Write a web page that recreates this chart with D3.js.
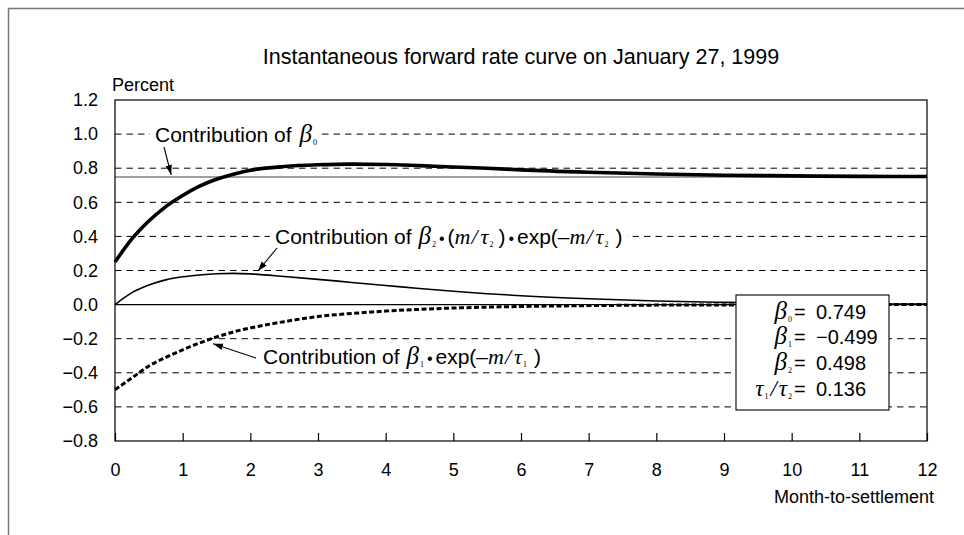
<!DOCTYPE html>
<html>
<head>
<meta charset="utf-8">
<script src="https://cdn.jsdelivr.net/npm/d3@7"></script>
<style>
  body { margin: 0; background: #fff; }
  svg { display: block; }
  text { font-family: "Liberation Sans", Arial, sans-serif; fill: #000; }
</style>
</head>
<body>
<svg id="chart" width="964" height="535"></svg>
<script>
// Months to settlement at which the curves are sampled
const months = [0, 0.25, 0.5, 0.75, 1, 1.25, 1.5, 1.75, 2, 2.5, 3, 3.5, 4, 4.5, 5, 5.5, 6, 7, 8, 9, 10, 11, 12];

// Instantaneous forward rate (percent)
const forwardRate = [0.25, 0.385, 0.49, 0.575, 0.64, 0.695, 0.735, 0.765, 0.788, 0.81, 0.82, 0.824, 0.822, 0.815, 0.807, 0.80, 0.79, 0.776, 0.766, 0.759, 0.755, 0.752, 0.751];

// Contribution of beta1 * exp(-m/tau1)
const beta1Term = [-0.499, -0.43, -0.36, -0.31, -0.265, -0.225, -0.19, -0.16, -0.137, -0.10, -0.07, -0.052, -0.038, -0.028, -0.02, -0.015, -0.011, -0.006, -0.003, -0.002, -0.001, 0, 0];

// Contribution of beta2 * (m/tau2) * exp(-m/tau2)
const beta2Term = [0, 0.07, 0.115, 0.145, 0.163, 0.174, 0.181, 0.183, 0.180, 0.165, 0.148, 0.13, 0.112, 0.094, 0.078, 0.064, 0.052, 0.034, 0.021, 0.013, 0.008, 0.005, 0.003];

// Contribution of beta0 (flat level)
const beta0Level = 0.749;

// Axis ticks
const xTicks = [0, 1, 2, 3, 4, 5, 6, 7, 8, 9, 10, 11, 12];
const yTicks = [-0.8, -0.6, -0.4, -0.2, 0.0, 0.2, 0.4, 0.6, 0.8, 1.0, 1.2];

// Estimated parameters shown in the box
const paramSymbols = ["b0", "b1", "b2", "tau"];
const paramValues = ["0.749", "\u22120.499", "0.498", "0.136"];

const svg = d3.select("#chart");
const plot = { left: 115, right: 927, top: 100, bottom: 441 };

const x = d3.scaleLinear().domain([0, 12]).range([plot.left, plot.right]);
const y = d3.scaleLinear().domain([-0.8, 1.2]).range([plot.bottom, plot.top]);

const serif = '"Liberation Serif", "Times New Roman", serif';

// Outer frame (top and left edges)
svg.append("path")
  .attr("d", "M8.5,535V8.5H964")
  .attr("fill", "none")
  .attr("stroke", "#777")
  .attr("stroke-width", 1.5);

// Title
svg.append("text")
  .attr("x", (plot.left + plot.right) / 2)
  .attr("y", 64)
  .attr("text-anchor", "middle")
  .style("font-size", "21.5px")
  .text("Instantaneous forward rate curve on January 27, 1999");

// Unit label
svg.append("text")
  .attr("x", 112)
  .attr("y", 91)
  .style("font-size", "18px")
  .text("Percent");

// Dashed gridlines
svg.append("g")
  .selectAll("line")
  .data(yTicks.filter(v => Math.abs(v) > 1e-9 && v > -0.8 && v < 1.2))
  .join("line")
  .attr("x1", plot.left).attr("x2", plot.right)
  .attr("y1", d => y(d)).attr("y2", d => y(d))
  .attr("stroke", "#000")
  .attr("stroke-width", 1)
  .attr("stroke-dasharray", "6.5,5");

// Zero line
svg.append("line")
  .attr("x1", plot.left).attr("x2", plot.right)
  .attr("y1", y(0)).attr("y2", y(0))
  .attr("stroke", "#000")
  .attr("stroke-width", 1.3);

// Level of beta0
svg.append("line")
  .attr("x1", plot.left).attr("x2", plot.right)
  .attr("y1", y(beta0Level)).attr("y2", y(beta0Level))
  .attr("stroke", "#808080")
  .attr("stroke-width", 1.5);

const line = series => d3.line()
  .x((d, i) => x(months[i]))
  .y(d => y(d))
  .curve(d3.curveMonotoneX)(series);

// beta2 hump term
svg.append("path")
  .attr("d", line(beta2Term))
  .attr("fill", "none")
  .attr("stroke", "#000")
  .attr("stroke-width", 1.6);

// beta1 decay term
svg.append("path")
  .attr("d", line(beta1Term))
  .attr("fill", "none")
  .attr("stroke", "#000")
  .attr("stroke-width", 3)
  .attr("stroke-dasharray", "5,2.5");

// Forward rate curve
svg.append("path")
  .attr("d", line(forwardRate))
  .attr("fill", "none")
  .attr("stroke", "#000")
  .attr("stroke-width", 3.6)
  .attr("stroke-linejoin", "round");

// Plot border
svg.append("rect")
  .attr("x", plot.left).attr("y", plot.top)
  .attr("width", plot.right - plot.left)
  .attr("height", plot.bottom - plot.top)
  .attr("fill", "none")
  .attr("stroke", "#000")
  .attr("stroke-width", 1.2);

// Y axis labels
const fmt = v => d3.format(".1f")(v).replace("-", "\u2212");
const yAxis = svg.append("g")
  .attr("transform", `translate(${plot.left},0)`)
  .call(d3.axisLeft(y).tickValues(yTicks).tickSize(0).tickPadding(17).tickFormat(fmt));
yAxis.select(".domain").remove();
yAxis.selectAll("text")
  .style("font-family", '"Liberation Sans", Arial, sans-serif')
  .style("font-size", "18px")
  .attr("fill", "#000");

// X axis with inward ticks
const xAxis = svg.append("g")
  .attr("transform", `translate(0,${plot.bottom})`)
  .call(d3.axisBottom(x).tickValues(xTicks).tickSizeInner(-8).tickSizeOuter(0).tickPadding(22).tickFormat(d3.format("d")));
xAxis.select(".domain").remove();
xAxis.selectAll("line").attr("stroke", "#000").attr("stroke-width", 1.2);
xAxis.selectAll("text")
  .style("font-family", '"Liberation Sans", Arial, sans-serif')
  .style("font-size", "18px")
  .attr("fill", "#000");

svg.append("text")
  .attr("x", 934)
  .attr("y", 503)
  .attr("text-anchor", "end")
  .style("font-size", "18px")
  .text("Month-to-settlement");

// Arrowhead
svg.append("defs").append("marker")
  .attr("id", "arrow")
  .attr("viewBox", "0 -4 10 8")
  .attr("refX", 10).attr("refY", 0)
  .attr("markerWidth", 10).attr("markerHeight", 8)
  .attr("markerUnits", "userSpaceOnUse")
  .attr("orient", "auto")
  .append("path")
  .attr("d", "M0,-3.2L10,0L0,3.2Z")
  .attr("fill", "#000");

// Builds a mixed sans / serif math label from pieces
function mathLabel(g, xPos, yPos, pieces, size) {
  const t = g.append("text")
    .attr("x", xPos).attr("y", yPos)
    .style("font-size", size.text + "px");
  pieces.forEach(p => {
    const s = t.append("tspan").text(p.t);
    if (p.kind === "greek") {
      s.style("font-family", serif).style("font-style", "italic").style("font-size", size.greek + "px");
    } else if (p.kind === "ital") {
      s.style("font-family", serif).style("font-style", "italic").style("font-size", size.ital + "px");
    } else if (p.kind === "sub") {
      s.style("font-family", serif).style("font-size", size.sub + "px").attr("dy", 3);
    } else if (p.kind === "bullet") {
      s.style("font-size", (size.text - 5) + "px");
    }
    if (p.dx) s.attr("dx", p.dx);
    if (p.up) s.attr("dy", -3);
  });
  return t;
}

const annSize = { text: 21, greek: 25, ital: 22, sub: 8 };

function annotate(xPos, yPos, pieces, arrowFrom, arrowTo) {
  const g = svg.append("g");
  const t = mathLabel(g, xPos, yPos, pieces, annSize);
  const b = t.node().getBBox();
  g.insert("rect", "text")
    .attr("x", b.x - 5).attr("y", b.y)
    .attr("width", b.width + 10).attr("height", b.height)
    .attr("fill", "#fff");
  svg.append("line")
    .attr("x1", arrowFrom[0]).attr("y1", arrowFrom[1])
    .attr("x2", arrowTo[0]).attr("y2", arrowTo[1])
    .attr("stroke", "#000")
    .attr("stroke-width", 1.1)
    .attr("marker-end", "url(#arrow)");
}

annotate(155, 141.5, [
  { t: "Contribution of " },
  { t: "\u03b2", kind: "greek", dx: 2 },
  { t: "0", kind: "sub", dx: 1 }
], [164, 147], [x(0.83), y(beta0Level) - 2]);

annotate(275, 243.5, [
  { t: "Contribution of " },
  { t: "\u03b2", kind: "greek", dx: 1 },
  { t: "2", kind: "sub", dx: 1 },
  { t: "\u2022", kind: "bullet", up: true, dx: 3 },
  { t: "(", dx: 3 },
  { t: "m", kind: "ital" },
  { t: "/", kind: "ital", dx: 1 },
  { t: "\u03c4", kind: "ital", dx: 3 },
  { t: "2", kind: "sub", dx: 1 },
  { t: ")", up: true, dx: 5 },
  { t: "\u2022", kind: "bullet", dx: 3 },
  { t: "exp(\u2013", dx: 3 },
  { t: "m", kind: "ital" },
  { t: "/", kind: "ital", dx: 1 },
  { t: "\u03c4", kind: "ital", dx: 3 },
  { t: "2", kind: "sub", dx: 1 },
  { t: ")", up: true, dx: 7 }
], [277, 248], [x(2.11), y(0.178) - 3]);

annotate(263, 363.5, [
  { t: "Contribution of " },
  { t: "\u03b2", kind: "greek", dx: 1 },
  { t: "1", kind: "sub", dx: 1 },
  { t: "\u2022", kind: "bullet", up: true, dx: 3 },
  { t: "exp(\u2013", dx: 3 },
  { t: "m", kind: "ital" },
  { t: "/", kind: "ital", dx: 1 },
  { t: "\u03c4", kind: "ital", dx: 3 },
  { t: "1", kind: "sub", dx: 1 },
  { t: ")", up: true, dx: 7 }
], [256, 358], [x(1.45), y(-0.2) + 5]);

// Parameter box
const box = svg.append("g");
box.append("rect")
  .attr("x", 736).attr("y", 295)
  .attr("width", 153).attr("height", 115)
  .attr("fill", "#fff")
  .attr("stroke", "#000")
  .attr("stroke-width", 1.1);

const boxSize = { text: 20, greek: 25, ital: 23, sub: 8 };
const symbolPieces = {
  b0: [{ t: "\u03b2", kind: "greek" }, { t: "0", kind: "sub", dx: 1 }],
  b1: [{ t: "\u03b2", kind: "greek" }, { t: "1", kind: "sub", dx: 1 }],
  b2: [{ t: "\u03b2", kind: "greek" }, { t: "2", kind: "sub", dx: 1 }],
  tau: [{ t: "\u03c4", kind: "ital" }, { t: "1", kind: "sub", dx: 1 }, { t: "/", kind: "ital", up: true, dx: 2 },
        { t: "\u03c4", kind: "ital", dx: 2 }, { t: "2", kind: "sub", dx: 1 }]
};

paramSymbols.forEach((s, i) => {
  const yy = 318.5 + i * 25.8;
  mathLabel(box, 792, yy, symbolPieces[s], boxSize).attr("text-anchor", "end");
  box.append("text")
    .attr("x", 794).attr("y", yy)
    .style("font-size", boxSize.text + "px")
    .text("=");
  box.append("text")
    .attr("x", 816).attr("y", yy)
    .style("font-size", boxSize.text + "px")
    .text(paramValues[i]);
});
</script>
</body>
</html>
